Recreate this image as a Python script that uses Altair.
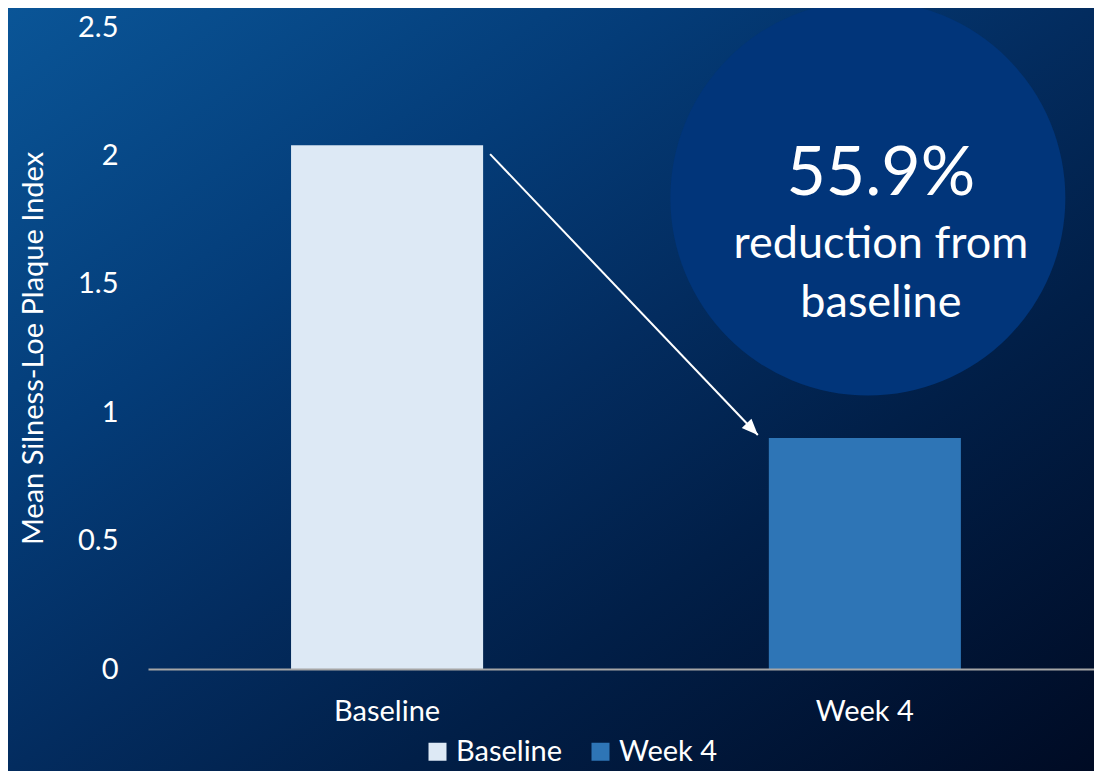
import altair as alt
import pandas as pd

# ---- data ----
categories = ["Baseline", "Week 4"]
values = [2.04, 0.90]
bar_colors = ["#dde9f5", "#2e75b6"]
y_ticks = [0, 0.5, 1, 1.5, 2, 2.5]

callout_lines = ["55.9%", "reduction from", "baseline"]
callout_y = [1.846, 1.600, 1.371]
callout_sizes = [68, 45, 45]
circle_y = [1.834]

arrow_from = ["Baseline"]
arrow_to = ["Week 4"]
arrow_y_from = [2.005]
arrow_y_to = [0.911]

FONT = "Lato"
W, H = 946, 642
PAD = {"left": 140, "top": 19, "right": 0, "bottom": 102}

bars_df = pd.DataFrame({"cat": categories, "val": values})
callout_df = pd.DataFrame({"cat": ["Week 4"] * 3, "y": callout_y, "txt": callout_lines, "size": callout_sizes})
circle_df = pd.DataFrame({"cat": ["Week 4"], "y": circle_y})
arrow_df = pd.DataFrame({"c1": arrow_from, "c2": arrow_to, "y1": arrow_y_from, "y2": arrow_y_to})

xscale = alt.Scale(domain=categories, paddingInner=0.598, paddingOuter=0.289, align=0.518)
yscale = alt.Scale(domain=[0, 2.5])

bg = alt.Chart(pd.DataFrame({"a": [0]})).mark_rect(
    fill=alt.Gradient(
        gradient="linear",
        x1=0, y1=0, x2=1, y2=1,
        stops=[
            alt.GradientStop(offset=0, color="#0a5597"),
            alt.GradientStop(offset=0.3, color="#043c78"),
            alt.GradientStop(offset=0.5, color="#032c5f"),
            alt.GradientStop(offset=0.68, color="#011f48"),
            alt.GradientStop(offset=1, color="#000b24"),
        ],
    )
).encode(
    x=alt.value(-PAD["left"]), x2=alt.value(W + PAD["right"]),
    y=alt.value(-PAD["top"]), y2=alt.value(H + PAD["bottom"]),
)

bars = alt.Chart(bars_df).mark_bar().encode(
    x=alt.X("cat:N", scale=xscale, sort=categories,
            axis=alt.Axis(title=None, labelAngle=0, labelAlign="center", labelColor="white",
                          labelFont=FONT, labelFontSize=29, labelPadding=42, ticks=False,
                          zindex=1, domainColor="#a6a6a6", domainWidth=2, grid=False)),
    y=alt.Y("val:Q", scale=yscale,
            axis=alt.Axis(title="Mean Silness-Loe Plaque Index", values=y_ticks, format="~g",
                          labelColor="white", labelFont=FONT, zindex=1,
                          labelFontSize=29, labelPadding=30, ticks=False, domain=False,
                          grid=False, titleColor="white", titleFont=FONT, titleFontSize=29,
                          titleFontWeight="normal", titleX=-115, titleY=H / 2,
                          titleAlign="center", titleBaseline="middle", titleAngle=-90)),
    color=alt.Color("cat:N", scale=alt.Scale(domain=categories, range=bar_colors),
                    legend=alt.Legend(title=None, orient="none", direction="horizontal",
                                      legendX=275, legendY=710, symbolType="square",
                                      symbolSize=324, symbolStrokeWidth=0, labelColor="white",
                                      labelFont=FONT, labelFontSize=29, labelOffset=4,
                                      columnPadding=23, symbolOpacity=1)),
)

circle = alt.Chart(circle_df).mark_point(
    shape="circle", size=156025, filled=True, color="#01357a", opacity=1, xOffset=3
).encode(x=alt.X("cat:N", scale=xscale), y=alt.Y("y:Q", scale=yscale))

callout = alt.Chart(callout_df).mark_text(
    color="white", font=FONT, align="center", baseline="alphabetic", dx=16
).encode(
    x=alt.X("cat:N", scale=xscale), y=alt.Y("y:Q", scale=yscale),
    text="txt:N", size=alt.Size("size:Q", scale=None),
)

arrow_line = alt.Chart(arrow_df).mark_rule(
    color="white", strokeWidth=2, xOffset=103, x2Offset=-107
).encode(
    x=alt.X("c1:N", scale=xscale), x2="c2:N",
    y=alt.Y("y1:Q", scale=yscale), y2="y2:Q",
)

arrow_head = alt.Chart(arrow_df).mark_point(
    shape="M0,0L-1.2,-0.5L-1.2,0.5Z", size=730, filled=True, color="white",
    opacity=1, angle=46, xOffset=-107
).encode(x=alt.X("c2:N", scale=xscale), y=alt.Y("y2:Q", scale=yscale))

chart = alt.layer(bg, circle, bars, arrow_line, arrow_head, callout).properties(
    width=W, height=H,
    autosize=alt.AutoSizeParams(type="none"),
    padding=PAD,
    background="#03244f",
).configure_view(strokeWidth=0)

chart.save("out.html", embed_options={"renderer": "svg", "actions": False})
